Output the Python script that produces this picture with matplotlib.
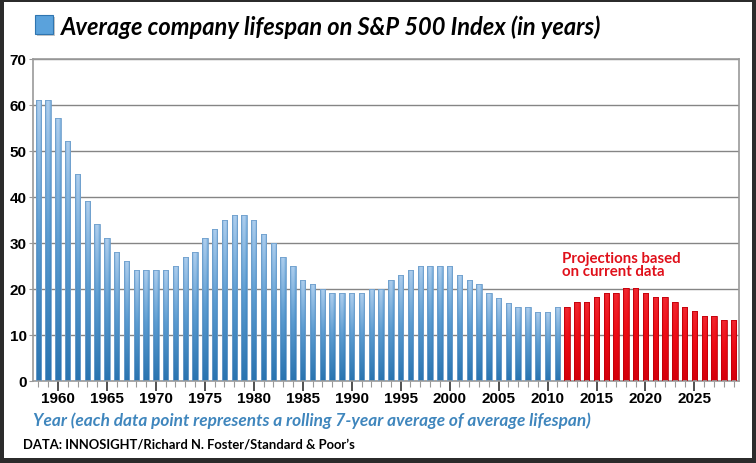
import numpy as np
import matplotlib
matplotlib.use("Agg")
import matplotlib.pyplot as plt
from matplotlib.patches import Rectangle
from matplotlib.colors import LinearSegmentedColormap

# ---- data ----
hist_years = list(range(1958, 2012))
hist_values = [61, 61, 57, 52, 45, 39, 34, 31, 28, 26, 24, 24, 24, 24, 25, 27, 28, 31,
               33, 35, 36, 36, 35, 32, 30, 27, 25, 22, 21, 20, 19, 19, 19, 19, 20, 20,
               22, 23, 24, 25, 25, 25, 25, 23, 22, 21, 19, 18, 17, 16, 16, 15, 15, 16]
proj_years = list(range(2012, 2030))
proj_values = [16, 17.2, 17.2, 18.2, 19.1, 19.1, 20.2, 20.2, 19.1, 18.2, 18.2, 17.2,
               16, 15.2, 14.2, 14.2, 13.3, 13.3]
xtick_years = list(range(1960, 2030, 5))
yticks = list(range(0, 80, 10))

title = "Average company lifespan on S&P 500 Index (in years)"
xlabel = "Year (each data point represents a rolling 7-year average of average lifespan)"
source = "DATA: INNOSIGHT/Richard N. Foster/Standard & Poor\u2019s"
note = "Projections based\non current data"

W, H = 756, 464
fig = plt.figure(figsize=(W / 100, H / 100), dpi=100, facecolor="#2b2b2b")
# white panel
fig.patches.append(Rectangle((4 / W, 1 - 459 / H), (752 - 4) / W, (459 - 3) / H,
                             transform=fig.transFigure, facecolor="white",
                             edgecolor="none", zorder=-10))

ax = fig.add_axes([33 / W, 1 - 382 / H, (738.5 - 33) / W, (382 - 59.5) / H])
ax.set_zorder(5)
ax.set_facecolor("white")

bw = 0.55
blue_cmap = LinearSegmentedColormap.from_list("b", ["#2a74b0", "#5b9bd0", "#b0cfee"])
red_cmap = LinearSegmentedColormap.from_list("r", ["#d4000c", "#ec0a14", "#f02a32"])

# horizontal cylinder shading
xs = np.linspace(-1, 1, 16)
shade = 1 - 0.35 * xs ** 2


def gradient_bars(years, values, cmap, edge):
    bars = ax.bar(years, values, width=bw, color="none", edgecolor=edge,
                  linewidth=0.6, zorder=3)
    for b in bars:
        x0, w, h = b.get_x(), b.get_width(), b.get_height()
        v = np.linspace(0, 1, 64)[:, None]
        img = cmap(v * shade[None, :])
        im = ax.imshow(img, extent=(x0, x0 + w, 0, h), origin="lower",
                       aspect="auto", zorder=2, interpolation="bilinear")
        im.set_clip_path(b)
    return bars


gradient_bars(hist_years, hist_values, blue_cmap, "#6f9fcc")
gradient_bars(proj_years, proj_values, red_cmap, "#c0000a")
ax.set_xlim(1957.45, 2029.5)
ax.set_ylim(0, 70)

ax.set_yticks(yticks)
ax.yaxis.grid(True, color="#858585", linewidth=1.0)
ax.set_axisbelow(True)
for s in ax.spines.values():
    s.set_color("#9a9a9a")
    s.set_linewidth(1.2)

ax.set_xticks(xtick_years)
ax.set_xticks(hist_years + proj_years, minor=True)
ax.tick_params(axis="x", which="major", length=7, width=1.2, color="#333333",
               direction="out", pad=0)
ax.tick_params(axis="x", which="minor", length=4, width=0.8, color="#999999",
               direction="out")
ax.tick_params(axis="y", length=3, color="#999999", pad=1.5)
for lbl in ax.get_xticklabels():
    lbl.set_fontfamily("Liberation Sans")
    lbl.set_fontweight("bold")
    lbl.set_fontsize(11)
for lbl in ax.get_yticklabels():
    lbl.set_fontfamily("Liberation Sans")
    lbl.set_fontweight("bold")
    lbl.set_fontsize(11)

ax.text(2011.5, 22.3, note, color="#e0101a", fontsize=10.8, fontweight="bold",
        fontfamily="Lato", ha="left", va="bottom", linespacing=0.95)

# title with icon
fig.patches.append(Rectangle((37 / W, 1 - 37 / H), 18 / W, 19 / H,
                             transform=fig.transFigure, facecolor="#c8c8c8",
                             edgecolor="none", zorder=1))
fig.patches.append(Rectangle((35 / W, 1 - 35 / H), 18 / W, 19 / H,
                             transform=fig.transFigure, facecolor="#5aa2dc",
                             edgecolor="#2f75b0", linewidth=0.8, zorder=2))
fig.text(61 / W, 1 - 27 / H, title, fontsize=17.0, fontweight="bold",
         fontstyle="italic", fontfamily="Lato", ha="left", va="center")

fig.text(33 / W, 1 - 421 / H, xlabel, fontsize=12.4, fontweight="bold", fontstyle="italic",
         fontfamily="Lato", color="#3f86bd", ha="left", va="center")
fig.text(23 / W, 1 - 445 / H, source, fontsize=9.4, fontweight="bold",
         fontfamily="Lato", color="black", ha="left", va="center")

fig.savefig("out.png", dpi=100, facecolor=fig.get_facecolor())
